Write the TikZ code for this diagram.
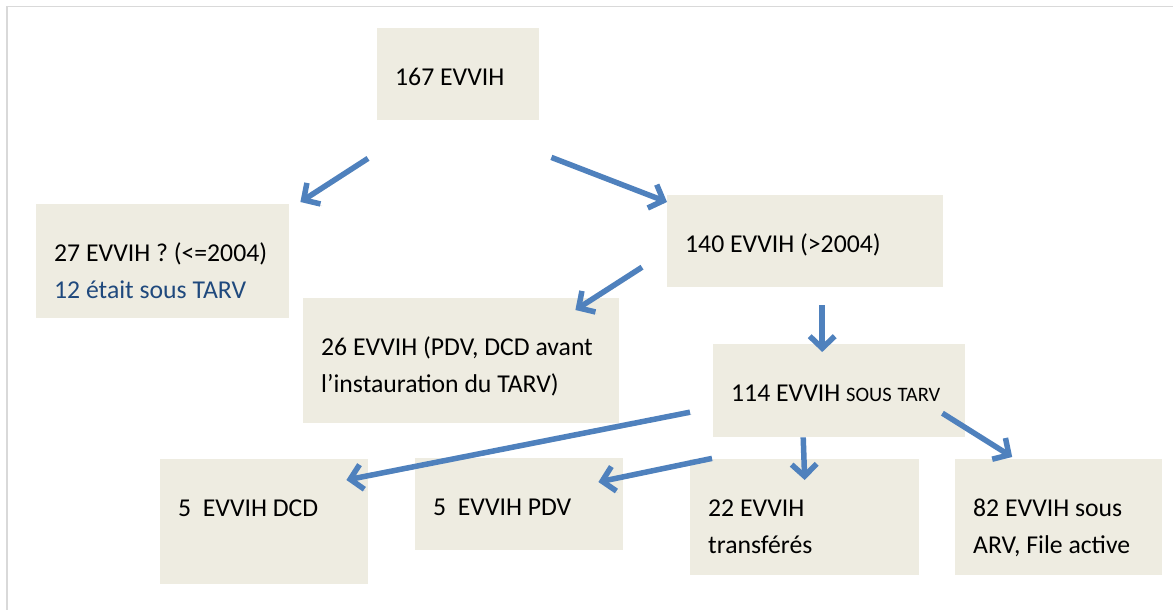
\documentclass[tikz,border=0pt]{standalone}
\usepackage{fontspec}
\setmainfont{Carlito}
\usepackage{xcolor}
\usepackage{tikz}
\usetikzlibrary{arrows.meta, positioning, calc}

\definecolor{boxfill}{HTML}{EEECE1}
\definecolor{arrowblue}{HTML}{4F81BD}
\definecolor{txtblue}{HTML}{1F497D}
\definecolor{framegray}{HTML}{D9D9D9}

\begin{document}
\begin{tikzpicture}[
    x=1pt, y=-1pt,
    box/.style={fill=boxfill, anchor=north west, align=left, inner xsep=18pt, inner ysep=0pt,
        text height=57pt, font=\fontsize{25.7pt}{37pt}\selectfont,
        execute at begin node={\spaceskip=5.8pt\relax}},
    arr/.style={draw=arrowblue, line width=5.5pt, -{Straight Barb[length=12pt,width=25pt]},
        preaction={draw=black!15, transform canvas={shift={(1.5pt,-2pt)}}}},
]
\useasboundingbox (0,0) rectangle (1173,610);
\fill[white] (0,0) rectangle (1173,610);
\draw[framegray, line width=1.5pt] (7,610) -- (7,6.5) -- (1173,6.5);

% Boxes
\node[box, text width=126pt, text depth=35pt] (root) at (377,28) {167 EVVIH};
\node[box, text width=217pt, text depth=57pt] (b27) at (36,204)
    {27~EVVIH~?~(<=2004)\\ \textcolor{txtblue}{12 était sous TARV}};
\node[box, text width=240pt, text depth=35pt] (b140) at (667,195) {140 EVVIH (>2004)};
\node[box, text width=280pt, text depth=68pt] (b26) at (303,298)
    {26~EVVIH~(PDV,~DCD~avant\\ l’instauration du TARV)};
\node[box, text width=216pt, text depth=36pt] (b114) at (713,344)
    {114~EVVIH~{\fontsize{20.5pt}{24pt}\selectfont SOUS~TARV}};
\node[box, text width=172pt, text depth=68pt] (dcd) at (160,459) {5\ \ EVVIH DCD};
\node[box, text width=172pt, text depth=35pt] (pdv) at (415,458) {5\ \ EVVIH PDV};
\node[box, text width=193pt, text depth=59pt] (b22) at (690,459) {22 EVVIH\\ transférés};
\node[box, text width=171pt, text depth=59pt] (b82) at (955,459) {82 EVVIH sous\\ ARV, File active};

% Arrows
\draw[arr] ([shift={(-9,38)}]root.south west) -- ([shift={(11,-2)}]b27.north east);
\draw[arr] ([shift={(12,37)}]root.south east) -- ([shift={(0,7)}]b140.north west);
\draw[arr] ([shift={(-25,26)}]b140.west) -- ([shift={(-44,12)}]b26.north east);
\draw[arr] ([shift={(17,18)}]b140.south) -- ([shift={(-17,8)}]b114.north);
\draw[arr] ([shift={(-23,21.5)}]b114.west) -- ([shift={(-22,21)}]dcd.north east);
\draw[arr] ([shift={(-1,21)}]b114.south west) -- ([shift={(-25,24)}]pdv.north east);
\draw[arr] ([shift={(-36,0)}]b114.south) -- ([shift={(0,21)}]b22.north);
\draw[arr] ([shift={(-23,22.5)}]b114.east) -- ([shift={(-46.5,-2)}]b82.north);

\end{tikzpicture}
\end{document}
